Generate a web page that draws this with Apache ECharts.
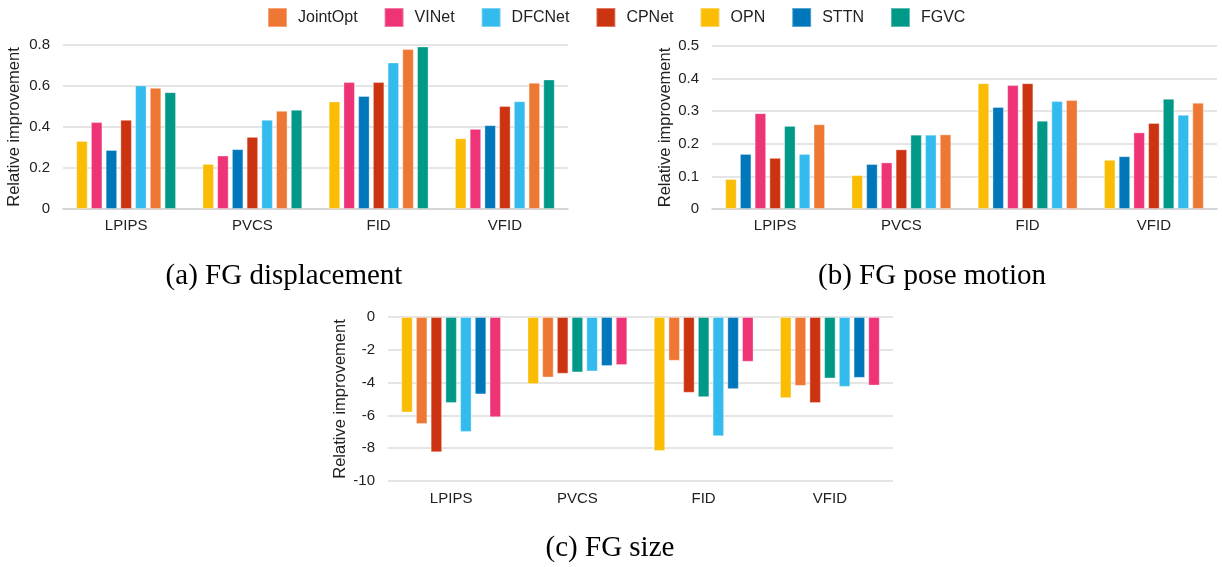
<!DOCTYPE html>
<html>
<head>
<meta charset="utf-8">
<title>Relative improvement by FG attribute</title>
<script src="https://cdn.jsdelivr.net/npm/echarts@6/dist/echarts.min.js"></script>
<style>
  html, body { margin: 0; padding: 0; background: #fff; }
  #chart { width: 1222px; height: 567px; }
</style>
</head>
<body>
<div id="chart"></div>
<script>
// Metric groups along each x axis
const categories = ['LPIPS', 'PVCS', 'FID', 'VFID'];

// Legend order
const methods = ['JointOpt', 'VINet', 'DFCNet', 'CPNet', 'OPN', 'STTN', 'FGVC'];

// Bar order inside each group, per panel
const orderDisplacement = ['OPN', 'VINet', 'STTN', 'CPNet', 'DFCNet', 'JointOpt', 'FGVC'];
const orderPose = ['OPN', 'STTN', 'VINet', 'CPNet', 'FGVC', 'DFCNet', 'JointOpt'];
const orderSize = ['OPN', 'JointOpt', 'CPNet', 'FGVC', 'DFCNet', 'STTN', 'VINet'];

// (a) FG displacement — values per method for LPIPS, PVCS, FID, VFID
const dispOPN      = [0.332, 0.220, 0.525, 0.345];
const dispVINet    = [0.424, 0.261, 0.619, 0.391];
const dispSTTN     = [0.288, 0.292, 0.551, 0.409];
const dispCPNet    = [0.435, 0.352, 0.619, 0.503];
const dispDFCNet   = [0.603, 0.435, 0.715, 0.526];
const dispJointOpt = [0.591, 0.479, 0.780, 0.616];
const dispFGVC     = [0.570, 0.484, 0.793, 0.632];

// (b) FG pose motion
const poseOPN      = [0.092, 0.104, 0.386, 0.151];
const poseSTTN     = [0.169, 0.138, 0.313, 0.162];
const poseVINet    = [0.294, 0.143, 0.380, 0.235];
const poseCPNet    = [0.157, 0.183, 0.386, 0.264];
const poseFGVC     = [0.255, 0.228, 0.271, 0.338];
const poseDFCNet   = [0.169, 0.228, 0.331, 0.289];
const poseJointOpt = [0.260, 0.229, 0.334, 0.326];

// (c) FG size
const sizeOPN      = [-5.82, -4.09, -8.17, -4.95];
const sizeJointOpt = [-6.52, -3.69, -2.67, -4.20];
const sizeCPNet    = [-8.25, -3.46, -4.62, -5.25];
const sizeFGVC     = [-5.25, -3.38, -4.89, -3.75];
const sizeDFCNet   = [-7.01, -3.32, -7.27, -4.26];
const sizeSTTN     = [-4.72, -2.99, -4.40, -3.71];
const sizeVINet    = [-6.11, -2.93, -2.73, -4.18];

// Y tick settings per panel
const ticksDisplacement = { min: 0, max: 0.8, interval: 0.2 };
const ticksPose = { min: 0, max: 0.5, interval: 0.1 };
const ticksSize = { min: -10, max: 0, interval: 2 };

const colors = {
  JointOpt: '#EE7733',
  VINet: '#EE3377',
  DFCNet: '#33BBEE',
  CPNet: '#CC3311',
  OPN: '#FBBC04',
  STTN: '#0077BB',
  FGVC: '#009988'
};

const panelData = [
  { order: orderDisplacement, values: {
      OPN: dispOPN, VINet: dispVINet, STTN: dispSTTN, CPNet: dispCPNet,
      DFCNet: dispDFCNet, JointOpt: dispJointOpt, FGVC: dispFGVC } },
  { order: orderPose, values: {
      OPN: poseOPN, STTN: poseSTTN, VINet: poseVINet, CPNet: poseCPNet,
      FGVC: poseFGVC, DFCNet: poseDFCNet, JointOpt: poseJointOpt } },
  { order: orderSize, values: {
      OPN: sizeOPN, JointOpt: sizeJointOpt, CPNet: sizeCPNet, FGVC: sizeFGVC,
      DFCNet: sizeDFCNet, STTN: sizeSTTN, VINet: sizeVINet } }
];

const sans = '"Liberation Sans", Arial, sans-serif';
const serif = '"Liberation Serif", "Times New Roman", serif';

const grids = [
  { left: 63, top: 45, width: 505, height: 164 },
  { left: 712, top: 46, width: 505, height: 163 },
  { left: 388, top: 317, width: 505, height: 164 }
];
const tickSets = [ticksDisplacement, ticksPose, ticksSize];
const nameGaps = [40, 37, 38];

const xAxes = grids.map((g, i) => ({
  type: 'category',
  gridIndex: i,
  data: categories,
  position: 'bottom',
  axisLine: { show: i !== 2, lineStyle: { color: '#cfcfcf', width: 1.5 } },
  axisTick: { show: false },
  axisLabel: { color: '#222', fontFamily: sans, fontSize: 15, margin: i === 2 ? 10 : 9 }
}));

const yAxes = grids.map((g, i) => ({
  type: 'value',
  gridIndex: i,
  min: tickSets[i].min,
  max: tickSets[i].max,
  interval: tickSets[i].interval,
  name: 'Relative improvement',
  nameLocation: 'middle',
  nameRotate: 90,
  nameGap: nameGaps[i],
  nameTextStyle: { color: '#222', fontFamily: sans, fontSize: 16.5 },
  axisLine: { show: false },
  axisTick: { show: false },
  axisLabel: { color: '#222', fontFamily: sans, fontSize: 15, margin: 13 },
  splitLine: { lineStyle: { color: '#dcdcdc', width: 1.5 } }
}));

const series = [];
panelData.forEach((panel, p) => {
  panel.order.forEach(name => {
    series.push({
      type: 'bar',
      name: name,
      xAxisIndex: p,
      yAxisIndex: p,
      data: panel.values[name],
      barWidth: 11.5,
      barGap: '28%',
      itemStyle: {
        color: colors[name],
        borderColor: 'rgba(255,255,255,0.35)',
        borderWidth: 1
      },
      emphasis: { disabled: true }
    });
  });
});

const captionStyle = (text) => ({
  text: text,
  font: '29px ' + serif,
  fill: '#000',
  textAlign: 'center',
  textVerticalAlign: 'middle'
});

const option = {
  animation: false,
  backgroundColor: '#fff',
  legend: {
    data: methods,
    left: 267,
    top: 7,
    padding: 0,
    icon: 'rect',
    itemWidth: 19,
    itemHeight: 19,
    itemGap: 26,
    textStyle: { color: '#222', fontFamily: sans, fontSize: 16, padding: [0, 0, 0, 6] }
  },
  grid: grids,
  xAxis: xAxes,
  yAxis: yAxes,
  series: series,
  graphic: [
    { type: 'text', x: 284, y: 276, style: captionStyle('(a) FG displacement') },
    { type: 'text', x: 932, y: 276, style: captionStyle('(b) FG pose motion') },
    { type: 'text', x: 610, y: 548, style: captionStyle('(c) FG size') }
  ]
};

const chart = echarts.init(document.getElementById('chart'), null, { renderer: 'canvas' });
chart.setOption(option);
</script>
</body>
</html>
